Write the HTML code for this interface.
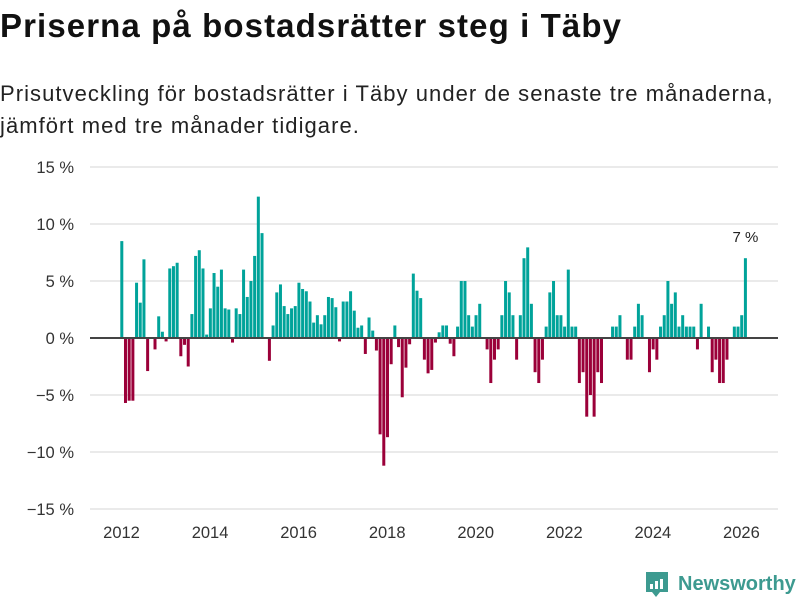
<!DOCTYPE html>
<html><head><meta charset="utf-8">
<style>
body{margin:0;background:#fff;font-family:"Liberation Sans",sans-serif;}
#wrap{position:relative;width:800px;height:600px;overflow:hidden;}
h1{position:absolute;left:0;top:7px;margin:0;font-size:33px;font-weight:bold;color:#111;letter-spacing:1.1px;}
p.sub{position:absolute;left:0;top:78px;margin:0;font-size:22px;line-height:32px;color:#222;letter-spacing:1.05px;}
svg{position:absolute;left:0;top:0;}
</style></head><body>
<div id="wrap">
<h1>Priserna på bostadsrätter steg i Täby</h1>
<p class="sub">Prisutveckling för bostadsrätter i Täby under de senaste tre månaderna,<br>jämfört med tre månader tidigare.</p>
<svg id="chart" width="800" height="600"></svg>
</div>
<script>
const values = [8.5,-5.7,-5.5,-5.5,4.85,3.1,6.9,-2.9,0,-1.0,1.9,0.55,-0.3,6.1,6.3,6.6,-1.6,-0.6,-2.5,2.1,
7.2,7.7,6.1,0.3,2.6,5.7,4.5,6.0,2.6,2.5,-0.4,2.6,2.1,6.0,3.6,5.0,7.2,12.4,9.2,0,
-2.0,1.1,4.0,4.7,2.8,2.1,2.6,2.8,4.85,4.3,4.1,3.2,1.35,2.0,1.2,2.0,3.6,3.5,2.7,-0.3,
3.2,3.2,4.1,2.4,0.9,1.1,-1.4,1.8,0.65,-1.1,-8.45,-11.2,-8.7,-2.3,1.1,-0.8,-5.2,-2.6,-0.55,5.65,
4.15,3.5,-1.9,-3.1,-2.8,-0.4,0.5,1.1,1.1,-0.5,-1.6,1.0,5.0,5.0,2.0,1.0,2.0,3.0,0,-1.0,
-3.95,-1.9,-1.0,2.0,5.0,4.0,2.0,-1.9,2.0,7.0,7.95,3.0,-3.0,-3.95,-1.9,1.0,4.0,5.0,2.0,2.0,
1.0,6.0,1.0,1.0,-3.95,-3.0,-6.9,-5.0,-6.9,-3.0,-3.95,0,0,1.0,1.0,2.0,0,-1.9,-1.9,1.0,
3.0,2.0,0,-3.0,-1.0,-1.9,1.0,2.0,5.0,3.0,4.0,1.0,2.0,1.0,1.0,1.0,-1.0,3.0,0,1.0,
-3.0,-1.9,-3.95,-3.95,-1.9,0,1.0,1.0,2.0,7.0];
const yTicks = [15,10,5,0,-5,-10,-15];
const xYears = [2012,2014,2016,2018,2020,2022,2024,2026];
const startYear = 2012;
const lastLabel = "7 %";

const NS="http://www.w3.org/2000/svg";
const svg=document.getElementById('chart');
function y(v){return 338 - v*11.4;}
function x(m){return 121.5 + m*3.69;}
function el(tag,attrs){const e=document.createElementNS(NS,tag);for(const k in attrs)e.setAttribute(k,attrs[k]);svg.appendChild(e);return e;}
const fmt=v=>(v<0?'\u2212'+(-v):v)+' %';
yTicks.forEach(t=>{
  if(t!==0){const g=el('line',{x1:90,x2:778,y1:y(t),y2:y(t),stroke:'#e3e3e3','stroke-width':1.5});
  
  }
  const tx=el('text',{x:74,y:y(t)+6,'text-anchor':'end','font-size':16.5,fill:'#333','font-family':'Liberation Sans, sans-serif'});
  tx.textContent=fmt(t);
  
  
});
xYears.forEach(yr=>{
  const tx=el('text',{x:x((yr-startYear)*12),y:538,'text-anchor':'middle','font-size':16.5,fill:'#333','font-family':'Liberation Sans, sans-serif'});
  tx.textContent=yr;
  
  
});
values.forEach((v,i)=>{
  if(v===0)return;
  const r=el('rect',{x:x(i)-1.2,width:3,y:Math.min(y(v),y(0)),height:Math.abs(y(v)-y(0)),fill:v>0?'#00a39a':'#9b0039'});
  
  
});
const zl=el('line',{x1:90,x2:778,y1:y(0),y2:y(0),stroke:'#444','stroke-width':2});


const li=values.length-1;
const ann=el('text',{x:x(li)+0.3,y:y(values[li])-16,'text-anchor':'middle','font-size':15,fill:'#222','font-family':'Liberation Sans, sans-serif'});
ann.textContent=lastLabel;


const ic=el('path',{d:'M646 572 h22 v20 h-8 l-4 5 l-4 -5 h-6 z',fill:'#3d9a90'});


[[650,584,3,5],[655,581,3,8],[660,579,3,10]].forEach(b=>{const r=el('rect',{x:b[0],y:b[1],width:b[2],height:b[3],fill:'#fff'});

});
const lt=el('text',{x:678,y:590,'font-size':20,'font-weight':'bold',fill:'#3d9a90','font-family':'Liberation Sans, sans-serif'});
lt.textContent='Newsworthy';


</script>
</body></html>
